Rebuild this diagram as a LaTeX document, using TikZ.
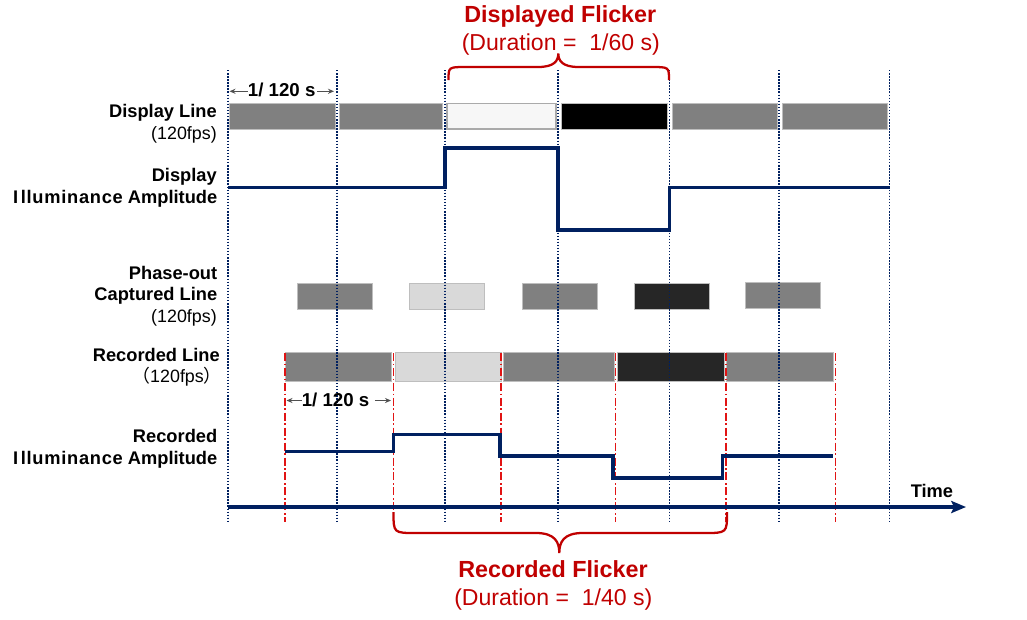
\documentclass[tikz,border=0pt]{standalone}
\usepackage{fontspec}
\setmainfont{Liberation Sans}
\newfontfamily\cjk{Noto Sans CJK SC}
\usetikzlibrary{arrows.meta}
\definecolor{navy}{RGB}{0,32,96}
\definecolor{dred}{RGB}{192,0,0}
\definecolor{lred}{RGB}{225,20,20}
\definecolor{gmid}{RGB}{128,128,128}
\definecolor{glight}{RGB}{217,217,217}
\definecolor{gwhite}{RGB}{247,247,247}
\definecolor{gdark}{RGB}{38,38,38}
\definecolor{edge}{RGB}{190,190,190}
\definecolor{wedge}{RGB}{170,170,170}
\definecolor{dimc}{RGB}{80,80,80}
\newcommand{\illum}{{\addfontfeature{LetterSpace=4}I\kern2pt lluminance} Amplitude}
\begin{document}
\begin{tikzpicture}[x=0.75pt,y=-0.75pt,
  lbl/.style={font=\bfseries\fontsize{13.7}{16}\selectfont, inner sep=0pt, anchor=base east},
  sublbl/.style={font=\fontsize{13.4}{16}\selectfont, inner sep=0pt, anchor=base east},
  ttl/.style={font=\bfseries\fontsize{17.5}{20}\selectfont, text=dred, inner sep=0pt, anchor=base},
  dur/.style={font=\fontsize{17.3}{20}\selectfont, text=dred, inner sep=0pt, anchor=base},
  dimtxt/.style={font=\bfseries\fontsize{14}{16}\selectfont, inner sep=0pt, anchor=base},
  dimarrow/.style={draw=dimc, line width=0.8pt, -{Stealth[length=4.5pt,width=3.8pt]}},
  barbox/.style={draw=edge, line width=0.5pt},
  guide/.style={navy, line width=1.25pt, dash pattern=on 1.1pt off 1.2pt},
  rguide/.style={lred, line width=1.2pt, dash pattern=on 6pt off 2pt on 1.2pt off 2pt},
  amp/.style={navy, line width=2.5pt, line join=miter},
  brace/.style={dred, line width=1.7pt}
]
\useasboundingbox (0,0) rectangle (1027,619);

% ---------- Display line boxes ----------
\path[barbox, fill=gmid]   (229,103.5) rectangle (335,129);
\path[barbox, fill=gmid]   (339,103.5) rectangle (442.5,129);
\path[draw=wedge, line width=1pt, fill=gwhite] (447,103.5) rectangle (556,129);
\path[barbox, fill=black]  (561.5,103.5) rectangle (667,129);
\path[barbox, fill=gmid]   (672,103.5) rectangle (777.5,129);
\path[barbox, fill=gmid]   (782,103.5) rectangle (887,129);

% ---------- Phase-out captured boxes ----------
\path[barbox, fill=gmid]   (297,283.5) rectangle (372,309);
\path[barbox, fill=glight] (409,283.5) rectangle (484,309);
\path[barbox, fill=gmid]   (522,283.5) rectangle (597,309);
\path[barbox, fill=gdark]  (634,283.5) rectangle (709,309);
\path[barbox, fill=gmid]   (745,282.5) rectangle (820,308);

% ---------- Recorded line boxes ----------
\path[barbox, fill=gmid]   (285,352) rectangle (391.5,381.5);
\path[barbox, fill=glight] (395.5,352) rectangle (501.5,381.5);
\path[barbox, fill=gmid]   (503.5,352) rectangle (614,381.5);
\path[barbox, fill=gdark]  (617.5,352) rectangle (724,381.5);
\path[barbox, fill=gmid]   (726.5,352) rectangle (833,381.5);

% ---------- guide lines ----------
\foreach \gx in {228,337,445,558,669.5,779,889.5}
  \draw[guide] (\gx,70) -- (\gx,522);
\foreach \rx in {285,393.5,501,615.5,726,835.5}
  \draw[rguide] (\rx,353) -- (\rx,522);

% ---------- amplitude traces ----------
\draw[amp] (228,187.5) -- (445,187.5) -- (445,148) -- (558,148) -- (558,230)
  -- (669.5,230) -- (669.5,187.5) -- (889.5,187.5);
\draw[amp] (285,451.5) -- (393.5,451.5) -- (393.5,434.5) -- (500,434.5) -- (500,456)
  -- (613,456) -- (613,478) -- (722.5,478) -- (722.5,456) -- (833,456);

% ---------- time axis ----------
\coordinate (ax0) at (228,507);
\coordinate (ax1) at (966,507);
\draw[navy, line width=2.5pt, -{Stealth[length=11pt,width=9pt,inset=2pt]}] (ax0) -- (ax1);
\node[font=\bfseries\fontsize{13.7}{16}\selectfont, inner sep=0pt, anchor=base west] (time) at (910.5,497.5) {Time};

% ---------- left labels ----------
\node[lbl] (l1) at (217,117.3) {Display Line};
\node[sublbl] (l1b) at (217,139.3) {(120fps)};
\node[lbl] (l2) at (217,181.7) {Display};
\node[lbl] (l2b) at (217.5,203.5) {\illum};
\node[lbl] (l3) at (217.5,279.3) {Phase-out};
\node[lbl] (l3b) at (217.5,300.7) {Captured Line};
\node[sublbl] (l3c) at (217,322.7) {(120fps)};
\node[lbl] (l4) at (220,361) {Recorded Line};
\node[sublbl] (l4b) at (222,382.7) {{\cjk （}120fps{\cjk ）}};
\node[lbl] (l5) at (217.5,442.7) {Recorded};
\node[lbl] (l5b) at (217.5,464.5) {\illum};

% ---------- period annotations ----------
\node[dimtxt] (p1) at (281.7,96.7) {1/ 120 s};
\coordinate (p1l) at (229.5,91.3);
\coordinate (p1r) at (334,91.3);
\draw[dimarrow] (p1l -| p1.west) -- (p1l);
\draw[dimarrow] ([xshift=1pt]p1r -| p1.east) -- (p1r);

\node[dimtxt] (p2) at (335.5,406) {1/ 120 s};
\coordinate (p2l) at (286.5,400.5);
\coordinate (p2r) at (391,400.5);
\draw[dimarrow] (p2l -| p2.west) -- (p2l);
\draw[dimarrow] ([xshift=4pt]p2r -| p2.east) -- (p2r);

% ---------- displayed flicker brace ----------
\draw[brace] (448.5,80) .. controls (448.5,67) .. (466,67) -- (538,67)
  .. controls (554,67) and (558.3,61) .. (558.3,53.5)
  .. controls (558.3,61) and (562.6,67) .. (578.6,67) -- (651,67)
  .. controls (669,67) .. (669,80);
\node[ttl] (tt) at (560.3,22.7) {Displayed Flicker};
\node[dur] (td) at (560.8,50) {(Duration =\ \ 1/60 s)};

% ---------- recorded flicker brace ----------
\draw[brace] (393.5,512) .. controls (393.5,533) .. (416,533) -- (536,533)
  .. controls (555,533) and (559.3,542) .. (559.3,553)
  .. controls (559.3,542) and (563.6,533) .. (582.6,533) -- (704,533)
  .. controls (727,533) .. (727,512);
\node[ttl] (bt) at (553,577.3) {Recorded Flicker};
\node[dur] (bd) at (553.3,605) {(Duration =\ \ 1/40 s)};
\end{tikzpicture}
\end{document}
